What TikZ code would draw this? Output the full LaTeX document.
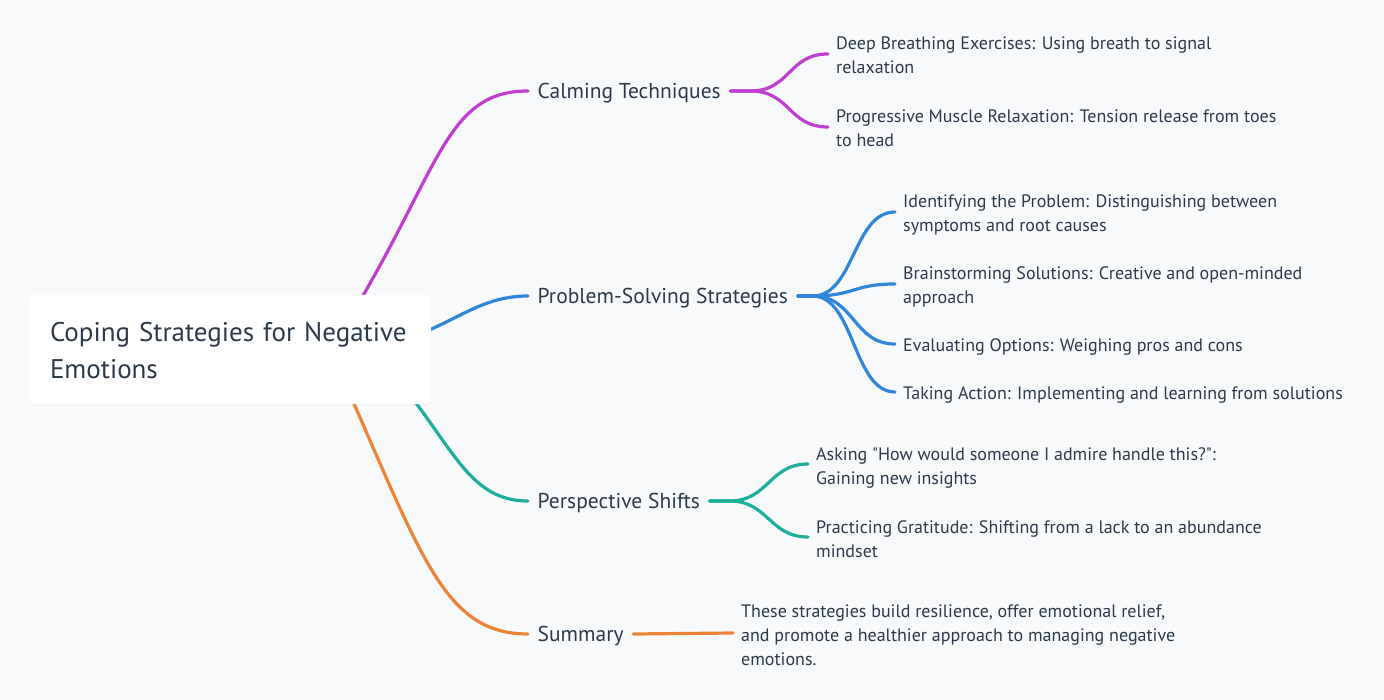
\documentclass[tikz,border=0pt]{standalone}
\usepackage{fontspec}
\setmainfont{PT Sans}
\usetikzlibrary{shadows}
\definecolor{bgc}{HTML}{F8F9FB}
\definecolor{txt}{HTML}{2C3A4B}
\definecolor{cpurple}{HTML}{C13DD1}
\definecolor{cblue}{HTML}{2E87DA}
\definecolor{cteal}{HTML}{1CAF9C}
\definecolor{corange}{HTML}{EC8337}
\newcommand{\strRoot}{\rule[-7.7pt]{0pt}{37pt}}
\newcommand{\strOne}{\rule[-4.7pt]{0pt}{24pt}}
\newcommand{\strTwo}{\rule[-4.5pt]{0pt}{24pt}}
\newcommand{\strTop}{\rule[-4.5pt]{0pt}{25pt}}
\pgfdeclarelayer{bg}
\pgfdeclarelayer{links}
\pgfsetlayers{bg,links,main}
\tikzset{
  rootbox/.style={fill=white, rounded corners=6pt, minimum width=402pt, minimum height=109pt,
    inner xsep=21pt, inner ysep=0pt, align=left, text width=360pt,
    font=\fontsize{27}{37}\selectfont, text=txt,
    execute at begin node=\strRoot, execute at end node=\strRoot,
    drop shadow={opacity=0.05, shadow xshift=0pt, shadow yshift=-2pt}},
  lvone/.style={anchor=west, inner xsep=9.5pt, inner ysep=0pt, text=txt,
    font=\fontsize{21.5}{24}\selectfont, execute at begin node=\strOne},
  lvtwo/.style={anchor=west, inner xsep=8pt, inner ysep=0pt, text=txt, align=left,
    font=\fontsize{18}{24}\selectfont},
  link/.style={line width=3.2pt, line cap=round}
}
\begin{document}
\begin{tikzpicture}[x=1pt,y=-1pt]
\useasboundingbox (0,0) rectangle (1384,700);
\begin{pgfonlayer}{bg}
\fill[bgc] (0,0) rectangle (1384,700);
\end{pgfonlayer}

\node[rootbox] (root) at (230,349.5) {Coping Strategies for Negative\\Emotions};

\node[lvone] (calm) at (528,91) {Calming Techniques};
\node[lvone] (prob) at (528,296) {Problem-Solving Strategies};
\node[lvone] (persp) at (528,501) {Perspective Shifts};
\node[lvone] (summ) at (528,634) {Summary};

\node[lvtwo] (deep) at (828,54) {\strTop Deep Breathing Exercises: Using breath to signal\\relaxation\strTwo};
\node[lvtwo] (prog) at (828,127) {\strTop Progressive Muscle Relaxation: Tension release from toes\\to head\strTwo};

\node[lvtwo] (ident) at (895,212) {\strTop Identifying the Problem: Distinguishing between\\symptoms and root causes\strTwo};
\node[lvtwo] (brain) at (895,284) {\strTop Brainstorming Solutions: Creative and open-minded\\approach\strTwo};
\node[lvtwo] (eval) at (895,344) {\strTwo Evaluating Options: Weighing pros and cons};
\node[lvtwo] (take) at (895,392) {\strTwo Taking Action: Implementing and learning from solutions};

\node[lvtwo] (ask) at (808,464) {\strTop Asking \textquotedbl How would someone I admire handle this?\textquotedbl:\\Gaining new insights\strTwo};
\node[lvtwo] (grat) at (808,537) {\strTop Practicing Gratitude: Shifting from a lack to an abundance\\mindset\strTwo};

\node[lvtwo] (sumtext) at (733,633) {\strTop These strategies build resilience, offer emotional relief,\\and promote a healthier approach to managing negative\\emotions.\strTwo};

\begin{pgfonlayer}{links}
% root to level one
\draw[link, cpurple] ([xshift=100pt]root.center) .. controls +(110,-170) and +(-88,0) .. (calm.west);
\draw[link, cblue] ([xshift=100pt]root.center) .. controls +(110,0) and +(-68,0) .. (prob.west);
\draw[link, cteal] ([xshift=140pt]root.center) .. controls +(80,80) and +(-68,0) .. (persp.west);
\draw[link, corange] ([xshift=100pt]root.center) .. controls +(90,200) and +(-88,0) .. (summ.west);
% calming
\draw[link, cpurple] (calm.east) -- ++(20,0) .. controls +(40,0) and +(-40,0) .. (deep.west);
\draw[link, cpurple] (calm.east) -- ++(20,0) .. controls +(40,0) and +(-40,0) .. (prog.west);
% problem solving
\draw[link, cblue] (prob.east) -- ++(15,0) .. controls +(42,0) and +(-42,0) .. (ident.west);
\draw[link, cblue] (prob.east) -- ++(15,0) .. controls +(42,0) and +(-42,0) .. (brain.west);
\draw[link, cblue] (prob.east) -- ++(15,0) .. controls +(42,0) and +(-42,0) .. (eval.west);
\draw[link, cblue] (prob.east) -- ++(15,0) .. controls +(42,0) and +(-42,0) .. (take.west);
% perspective
\draw[link, cteal] (persp.east) -- ++(20,0) .. controls +(39,0) and +(-39,0) .. (ask.west);
\draw[link, cteal] (persp.east) -- ++(20,0) .. controls +(39,0) and +(-39,0) .. (grat.west);
% summary
\draw[link, corange] (summ.east) -- (sumtext.west);
\end{pgfonlayer}
\end{tikzpicture}
\end{document}
